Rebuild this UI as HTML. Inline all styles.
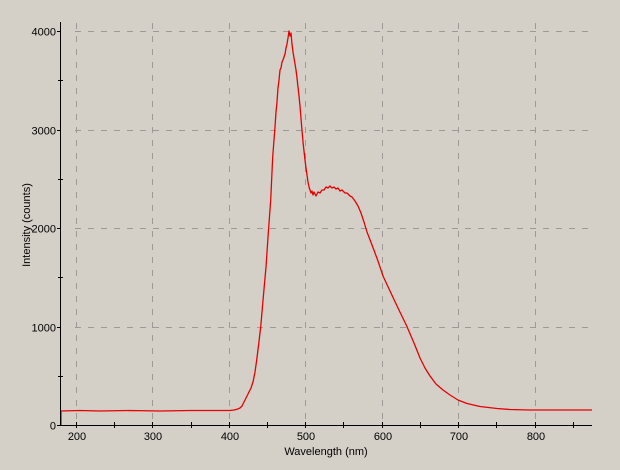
<!DOCTYPE html>
<html>
<head>
<meta charset="utf-8">
<style>
html,body{margin:0;padding:0;background:#d4d0c8;}
svg{display:block;}
text{font-family:"Liberation Sans",sans-serif;font-size:11px;fill:#000;}
</style>
</head>
<body>
<svg width="620" height="470" viewBox="0 0 620 470" xmlns="http://www.w3.org/2000/svg">
<rect x="0" y="0" width="620" height="470" fill="#d4d0c8"/>
<!-- grid -->
<g stroke="#9c9a96" stroke-width="1" stroke-dasharray="6,7" fill="none">
<line x1="76.5" y1="23" x2="76.5" y2="425"/>
<line x1="152.5" y1="23" x2="152.5" y2="425"/>
<line x1="229.5" y1="23" x2="229.5" y2="425"/>
<line x1="305.5" y1="23" x2="305.5" y2="425"/>
<line x1="382.5" y1="23" x2="382.5" y2="425"/>
<line x1="458.5" y1="23" x2="458.5" y2="425"/>
<line x1="535.5" y1="23" x2="535.5" y2="425"/>
<line x1="75" y1="31.5" x2="592" y2="31.5"/>
<line x1="75" y1="130.5" x2="592" y2="130.5"/>
<line x1="75" y1="228.5" x2="592" y2="228.5"/>
<line x1="75" y1="327.5" x2="592" y2="327.5"/>
</g>
<!-- curve -->
<polyline fill="none" stroke="#e60000" stroke-width="1.3" stroke-linejoin="round" points="
61,425 61,411 80,410.5 100,411 130,410.5 160,411 190,410.5 220,410.5 230,410.5 234,410 237,409.3 240,408 242,406 244,402 246,398 249,392 251,388 253,382 255,372 256.7,360 258.7,344 260.7,327 263.3,297 266,267 268.3,233 270.7,200 272.7,157 275,127 276,112 277,102 278,88 279,80 280,70 281,68 282,62 283,60 284,57 285,54 286,48 287,44 288,38 289,31 290,36 291,33 292,44 293,52 294,58 295,64 296,70 297,78 298,87 299,96 300,106 301.7,127 303,142 305,160 306,168 307,175 308,182 309,187 310,190 311,193 312,191 313,195 314,192 316,196 318,192 320,193 322,190 324,190 326,187 328,188 330,186 332,188 334,187 336,189 338,188 340,191 342,190 345,193 347,193 350,196 352,197 355,201 358,206 361,213 364,222 367,232 372,245 378,261 383,276 390,291 398,308 406.7,326 414,343 420,358 425,368 430,376 436,384 443,390 450,395 458,400 467,403.5 480,406.5 497,408.5 510,409.5 530,410 560,410 592,410"/>
<!-- axes -->
<g stroke="#000" stroke-width="1" fill="none">
<line x1="60.5" y1="22" x2="60.5" y2="426"/>
<line x1="60" y1="425.5" x2="592" y2="425.5"/>
<!-- y major ticks -->
<line x1="57" y1="31.5" x2="61" y2="31.5"/>
<line x1="57" y1="130.5" x2="61" y2="130.5"/>
<line x1="57" y1="228.5" x2="61" y2="228.5"/>
<line x1="57" y1="327.5" x2="61" y2="327.5"/>
<line x1="57" y1="425.5" x2="61" y2="425.5"/>
<!-- y minor ticks -->
<line x1="58" y1="80.5" x2="63" y2="80.5"/>
<line x1="58" y1="179.5" x2="63" y2="179.5"/>
<line x1="58" y1="277.5" x2="63" y2="277.5"/>
<line x1="58" y1="376.5" x2="63" y2="376.5"/>
<!-- x major ticks -->
<line x1="76.5" y1="422" x2="76.5" y2="428"/>
<line x1="152.5" y1="422" x2="152.5" y2="428"/>
<line x1="229.5" y1="422" x2="229.5" y2="428"/>
<line x1="305.5" y1="422" x2="305.5" y2="428"/>
<line x1="382.5" y1="422" x2="382.5" y2="428"/>
<line x1="458.5" y1="422" x2="458.5" y2="428"/>
<line x1="535.5" y1="422" x2="535.5" y2="428"/>
<!-- x minor ticks -->
<line x1="114.5" y1="422" x2="114.5" y2="428"/>
<line x1="191.5" y1="422" x2="191.5" y2="428"/>
<line x1="267.5" y1="422" x2="267.5" y2="428"/>
<line x1="343.5" y1="422" x2="343.5" y2="428"/>
<line x1="420.5" y1="422" x2="420.5" y2="428"/>
<line x1="496.5" y1="422" x2="496.5" y2="428"/>
<line x1="573.5" y1="422" x2="573.5" y2="428"/>
</g>
<!-- y tick labels -->
<g text-anchor="end">
<text x="56" y="35.5">4000</text>
<text x="56" y="134.5">3000</text>
<text x="56" y="232.5">2000</text>
<text x="56" y="331.5">1000</text>
<text x="56" y="429.5">0</text>
</g>
<!-- x tick labels -->
<g text-anchor="middle">
<text x="77" y="440">200</text>
<text x="153" y="440">300</text>
<text x="230" y="440">400</text>
<text x="306" y="440">500</text>
<text x="383" y="440">600</text>
<text x="459" y="440">700</text>
<text x="536" y="440">800</text>
</g>
<text x="326" y="455" text-anchor="middle">Wavelength (nm)</text>
<text x="0" y="0" text-anchor="middle" transform="translate(30,225) rotate(-90)">Intensity (counts)</text>
</svg>
</body>
</html>
